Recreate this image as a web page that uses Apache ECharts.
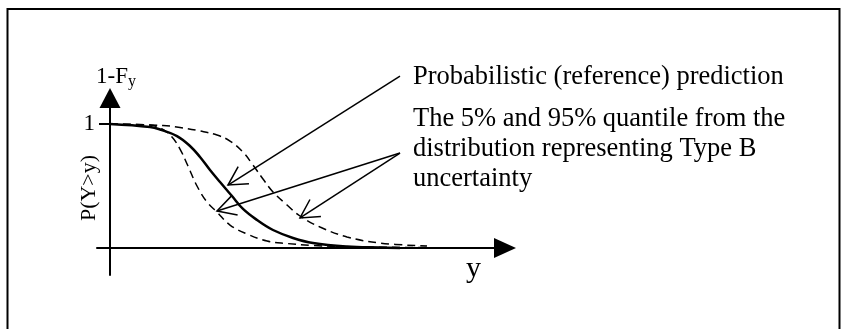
<!DOCTYPE html>
<html>
<head>
<meta charset="utf-8">
<title>P(Y&gt;y)</title>
<style>
    html, body { margin:0; padding:0; background:#fff; }
    #main { width:844px; height:329px; }
</style>
</head>
<body>
<div id="main"></div>
<script src="https://cdn.jsdelivr.net/npm/echarts@6/dist/echarts.min.js"></script>
<script>
// values (x in arbitrary units of y, value = 1-F = P(Y>y))
var refX  = [0, 2, 2.5, 3.35, 4, 4.5, 5, 5.5, 6.1, 6.65, 7.35, 8.15, 9.15, 10.15, 11.85, 13.5, 14.5];
var refY  = [1, 0.976, 0.956, 0.903, 0.823, 0.734, 0.629, 0.532, 0.419, 0.315, 0.226, 0.145, 0.081, 0.04, 0.012, 0.004, 0];
var lowX  = [0, 2, 2.6, 3.1, 3.5, 3.9, 4.35, 4.85, 5.35, 6, 6.85, 7.85, 8.85, 10.15, 12.5, 15.85];
var lowY  = [1, 0.992, 0.96, 0.895, 0.798, 0.661, 0.5, 0.371, 0.29, 0.185, 0.113, 0.056, 0.036, 0.02, 0.008, 0.004];
var highX = [0, 2.65, 3.5, 4.5, 5.35, 6, 6.65, 7.15, 7.65, 8.15, 8.85, 9.5, 10.5, 11.85, 13.5, 15.85];
var highY = [1, 0.988, 0.972, 0.944, 0.911, 0.863, 0.774, 0.669, 0.556, 0.452, 0.347, 0.258, 0.169, 0.089, 0.04, 0.016];
var yTicks = [1];

var noteLine1 = 'Probabilistic (reference) prediction';
var noteLine2 = 'The 5% and 95% quantile from the\ndistribution representing Type B\nuncertainty';

function pairs(xs, ys) {
    var out = [];
    for (var i = 0; i < xs.length; i++) out.push([xs[i], ys[i]]);
    return out;
}

var serif = "'Liberation Serif', 'Times New Roman', serif";
var chart = echarts.init(document.getElementById('main'));

var option = {
    backgroundColor: '#fff',
    animation: false,
    grid: { left: 97, top: 98, width: 408, height: 177 },
    xAxis: {
        type: 'value',
        min: -0.65,
        max: 19.75,
        name: 'y',
        nameLocation: 'end',
        nameGap: -39,
        nameTextStyle: { fontFamily: serif, fontSize: 30, color: '#000', align: 'left', verticalAlign: 'top', padding: [6, 0, 0, 0] },
        axisLine: { onZero: true, symbol: ['none', 'triangle'], symbolSize: [20, 22], lineStyle: { color: '#000', width: 2 } },
        axisTick: { show: false },
        axisLabel: { show: false },
        splitLine: { show: false }
    },
    yAxis: {
        type: 'value',
        min: -0.218,
        max: 1.21,
        name: '{a|1-F}{b|y}',
        nameLocation: 'end',
        nameGap: 9,
        nameTextStyle: {
            padding: [0, 0, 0, 12],
            rich: {
                a: { fontFamily: serif, fontSize: 23, color: '#000', lineHeight: 24 },
                b: { fontFamily: serif, fontSize: 16, color: '#000', lineHeight: 24, padding: [10, 0, 0, 0] }
            }
        },
        axisLine: { onZero: true, symbol: ['none', 'triangle'], symbolSize: [21, 20], lineStyle: { color: '#000', width: 2 } },
        axisTick: { show: true, customValues: yTicks, length: 11, lineStyle: { color: '#000', width: 2 } },
        axisLabel: { show: true, customValues: yTicks, margin: 2, fontFamily: serif, fontSize: 23, color: '#000' },
        splitLine: { show: false }
    },
    series: [
        { type: 'line', data: pairs(refX, refY), smooth: 0.4, showSymbol: false, lineStyle: { color: '#000', width: 2.5 }, z: 5 },
        { type: 'line', data: pairs(lowX, lowY), smooth: 0.4, showSymbol: false, lineStyle: { color: '#000', width: 1.5, type: [8, 5] } },
        { type: 'line', data: pairs(highX, highY), smooth: 0.4, showSymbol: false, lineStyle: { color: '#000', width: 1.5, type: [8, 5] } }
    ]
};
chart.setOption(option);

// annotation arrows: tip on a curve, tail next to the text (data coords)
var arrows = [
    { from: [14.5, 1.387], to: [5.9, 0.508] },
    { from: [14.5, 0.766], to: [5.35, 0.298] },
    { from: [14.5, 0.766], to: [9.5, 0.242] }
];

var els = [];
// frame round the figure
els.push({ type: 'rect', shape: { x: 7.5, y: 9, width: 832, height: 400 }, style: { fill: 'none', stroke: '#000', lineWidth: 2 }, silent: true });
arrows.forEach(function (a) {
    var p0 = chart.convertToPixel({ gridIndex: 0 }, a.from);
    var p1 = chart.convertToPixel({ gridIndex: 0 }, a.to);
    var ang = Math.atan2(p0[1] - p1[1], p0[0] - p1[0]);
    var len = 21, spread = 0.5;
    var h1 = [p1[0] + len * Math.cos(ang - spread), p1[1] + len * Math.sin(ang - spread)];
    var h2 = [p1[0] + len * Math.cos(ang + spread), p1[1] + len * Math.sin(ang + spread)];
    els.push({ type: 'line', shape: { x1: p0[0], y1: p0[1], x2: p1[0], y2: p1[1] }, style: { stroke: '#000', lineWidth: 1.5 }, z: 10 });
    els.push({ type: 'polyline', shape: { points: [h1, p1, h2] }, style: { stroke: '#000', lineWidth: 1.5, fill: null }, z: 10 });
});
els.push({ type: 'text', x: 89, y: 188, rotation: Math.PI / 2,
    style: { text: 'P(Y>y)', font: '22px ' + serif, fill: '#000', align: 'center', verticalAlign: 'middle' } });
els.push({ type: 'text', x: 413, y: 77,
    style: { text: noteLine1, font: '26.5px ' + serif, fill: '#000', align: 'left', verticalAlign: 'middle' } });
els.push({ type: 'text', x: 413, y: 104,
    style: { text: noteLine2, font: '26.5px ' + serif, lineHeight: 30, fill: '#000', align: 'left', verticalAlign: 'top' } });

chart.setOption({ graphic: { elements: els } });
</script>
</body>
</html>
